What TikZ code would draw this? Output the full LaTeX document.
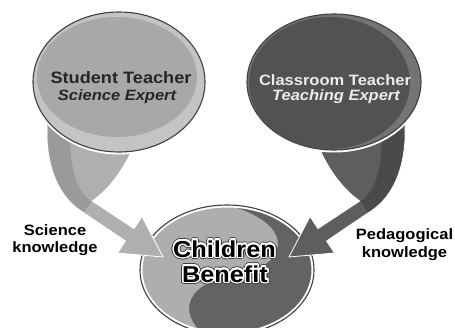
\documentclass[tikz,border=0pt]{standalone}
\usepackage{fontspec}
\setmainfont{Liberation Sans}[FakeStretch=1.1]
\usepackage{contour}
\usepackage{tikz}

\definecolor{lightring}{HTML}{C4C4C4}
\definecolor{lightfill}{HTML}{A8A8A8}
\definecolor{darkring}{HTML}{747474}
\definecolor{darkfill}{HTML}{525252}
\definecolor{botlight}{HTML}{AEAEAE}
\definecolor{botdark}{HTML}{636363}
\definecolor{arrlight}{HTML}{AFAFAF}
\definecolor{arrlightdk}{HTML}{9A9A9A}
\definecolor{arrdark}{HTML}{5E5E5E}
\definecolor{arrdarkdk}{HTML}{4A4A4A}

% white halo with a thin dark rim
\newcommand{\halotext}[1]{\makebox[0pt][l]{\contourlength{2.6pt}\contour{black!75}{\textcolor{black!75}{#1}}}\contourlength{1.5pt}\contour{white}{#1}}

\begin{document}
\begin{tikzpicture}[
  x=1pt, y=-1pt,
  bubble/.style={draw=black!75, line width=1.1pt, preaction={draw=white, line width=5pt}},
  band/.style={draw=white, line width=0.8pt, line join=round},
  txt/.style={anchor=base, inner sep=0pt},
  head/.style={txt, font=\bfseries\fontsize{16.5}{18}\selectfont},
  sub/.style={txt, font=\bfseries\itshape\fontsize{15}{17}\selectfont},
  side/.style={txt, font=\bfseries\fontsize{15}{17}\selectfont},
  big/.style={txt, font=\bfseries\fontsize{23}{25}\selectfont}
]
\useasboundingbox (0,0) rectangle (455,327);

% Bottom circle with swirl
\begin{scope}
  \clip (227,270) ellipse [x radius=87pt, y radius=65pt];
  \fill[botdark] (130,200) rectangle (320,340);
  \fill[botlight] (227,205) .. controls (300,225) and (288,268) .. (232,276)
    .. controls (182,284) and (176,318) .. (212,340) -- (130,340) -- (130,200) -- cycle;
\end{scope}
\draw[bubble] (227,270) ellipse [x radius=87pt, y radius=65pt];

% Curved arrows (left light, right dark mirrored)
\foreach \s/\c/\d in {1/arrlight/arrlightdk, -1/arrdark/arrdarkdk} {
  \begin{scope}[shift={({226*(1-\s)},0)}, xscale=\s]
    \fill[band, fill=\c] (47,110) -- (47,140) .. controls (49,175) and (62,200) .. (84,213)
      -- (125.5,241) -- (117.5,253) -- (163,257) -- (142,216.5) -- (134,228.6) -- (92.3,201)
      .. controls (108,190) and (122,172) .. (132,150) -- (140,110) -- cycle;
    \fill[\d] (48,110) -- (48,140) .. controls (50,175) and (63,199) .. (84.5,212)
      -- (91.5,201.5) .. controls (76,190) and (68,170) .. (70,110) -- cycle;
  \end{scope}
}

% Top left circle
\draw[bubble, fill=lightring] (119,82) ellipse [x radius=86pt, y radius=70pt];
\fill[lightfill] (117,77) ellipse [x radius=80pt, y radius=60pt];

% Top right circle
\draw[bubble, fill=darkring] (334,82) ellipse [x radius=87pt, y radius=68pt];
\fill[darkfill] (329.5,83) ellipse [x radius=80.5pt, y radius=66pt];

% Texts
\node[head, black!85] (stud) at (121,83.3) {Student Teacher};
\node[sub, black!85] (studexp) at (117,100) {Science Expert};
\node[head, white!92!black, font=\bfseries\fontsize{15}{17}\selectfont] (class) at (335,85) {Classroom Teacher};
\node[sub, white!92!black] (classexp) at (336,100.5) {Teaching Expert};

\node[big] (child) at (224.5,257) {\halotext{Children}};
\node[big] (benefit) at (225,282) {\halotext{Benefit}};

\node[side] (sci) at (55,235) {Science};
\node[side] (sciknow) at (55,252.5) {knowledge};
\node[side] (ped) at (404.5,239.5) {Pedagogical};
\node[side] (pedknow) at (404.5,257.5) {knowledge};

\end{tikzpicture}
\end{document}
